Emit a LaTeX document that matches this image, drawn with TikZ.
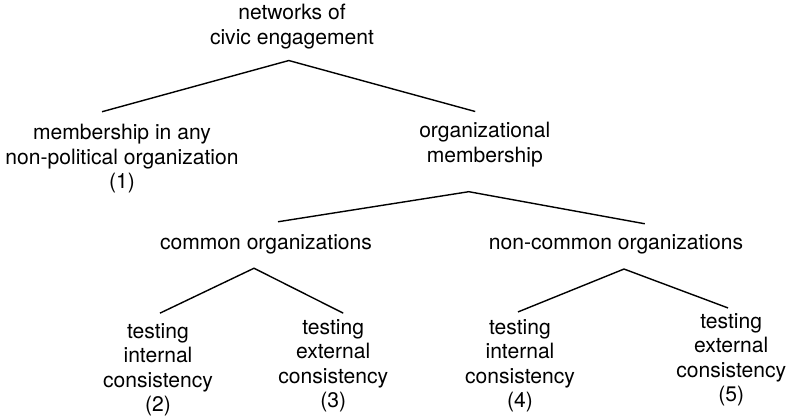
\documentclass[tikz,border=0pt]{standalone}
\usepackage{fontspec}
\setmainfont{TeX Gyre Heros}
\usetikzlibrary{positioning}

\begin{document}
\begin{tikzpicture}[txt/.style={align=center,inner sep=0pt,font=\fontsize{15}{17.4}\selectfont},
                    branch/.style={line width=1pt}]
\useasboundingbox (0,0) rectangle (19.8,-10.45);
% levels of the tree, top to bottom
\node[txt] (civic) at (7.3,-0.66) {networks of\\civic engagement};
\node[txt] (anyorg) at (3.05,-3.97) {membership in any\\non-political organization\\(1)};
\node[txt] (orgmem) at (12.12,-3.61) {organizational\\membership};
\node[txt] (common) at (6.65,-6.12) {common organizations};
\node[txt] (noncommon) at (15.4,-6.12) {non-common organizations};
\node[txt] (intA) at (3.95,-9.25) {testing\\internal\\consistency\\(2)};
\node[txt] (extA) at (8.33,-9.14) {testing\\external\\consistency\\(3)};
\node[txt] (intB) at (13.0,-9.15) {testing\\internal\\consistency\\(4)};
\node[txt] (extB) at (18.28,-8.99) {testing\\external\\consistency\\(5)};
% branches
\draw[branch] ([xshift=-0.5cm,yshift=0.31cm]anyorg.north) -- ([xshift=-0.08cm,yshift=-0.29cm]civic.south)
              -- ([xshift=-0.24cm,yshift=0.26cm]orgmem.north);
\draw[branch] ([xshift=0.3cm,yshift=0.325cm]common.north) -- ([xshift=-0.4cm,yshift=-0.62cm]orgmem.south)
              -- ([xshift=0.72cm,yshift=0.275cm]noncommon.north);
\draw[branch] ([xshift=0.05cm,yshift=0.255cm]intA.north) -- ([xshift=-0.3cm,yshift=-0.335cm]common.south)
              -- ([xshift=0.25cm,yshift=0.145cm]extA.north);
\draw[branch] ([xshift=-0.05cm,yshift=0.185cm]intB.north) -- ([xshift=0.2cm,yshift=-0.355cm]noncommon.south)
              -- ([xshift=-0.08cm,yshift=0.125cm]extB.north);
\end{tikzpicture}
\end{document}
